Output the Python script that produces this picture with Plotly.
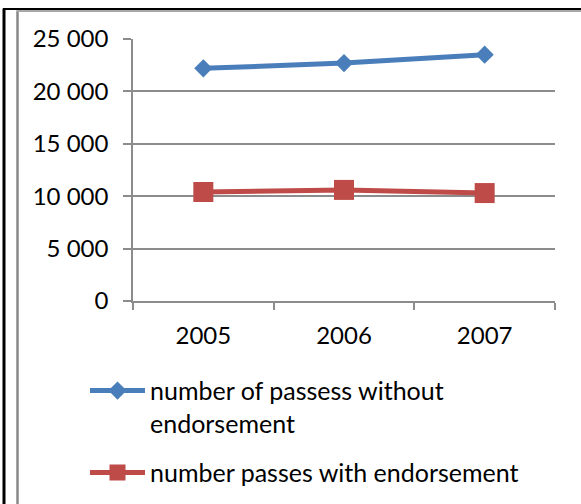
import plotly.graph_objects as go

years = ["2005", "2006", "2007"]
without_endorsement = [22200, 22700, 23500]
with_endorsement = [10400, 10600, 10300]
series_names = ["number of passess without<br>endorsement", "number passes with endorsement"]
y_ticks = [0, 5000, 10000, 15000, 20000, 25000]

W, H = 581, 504
L, R, T, B = 133, 555, 38.5, 301

def px(x):
    return (x - L) / (R - L)

def py(y):
    return (B - y) / (B - T)

FONT = "Lato, 'Open Sans', sans-serif"
GRID = "#8c8c8c"

fig = go.Figure()
fig.add_trace(go.Scatter(
    x=years, y=without_endorsement, name=series_names[0], mode="lines+markers",
    legendgroup="g1",
    line=dict(color="#4A7EBB", width=5),
    marker=dict(symbol="diamond", size=14, color="#4A7EBB"),
))
fig.add_trace(go.Scatter(
    x=years, y=with_endorsement, name=series_names[1], mode="lines+markers",
    legendgroup="g2",
    line=dict(color="#BE4B48", width=5),
    marker=dict(symbol="square", size=20, color="#BE4B48"),
))

shapes = [
    dict(type="line", xref="paper", yref="paper", x0=px(4), x1=px(4), y0=py(8), y1=py(505),
         line=dict(color="black", width=3)),
    dict(type="line", xref="paper", yref="paper", x0=px(3), x1=px(582), y0=py(8.5), y1=py(8.5),
         line=dict(color="black", width=2)),
    dict(type="line", xref="paper", yref="paper", x0=px(17.5), x1=px(17.5), y0=py(10), y1=py(505),
         line=dict(color="#888888", width=2.5)),
    dict(type="line", xref="paper", yref="paper", x0=px(17), x1=px(582), y0=py(10.5), y1=py(10.5),
         line=dict(color="#a8a8a8", width=2)),
]

fig.update_layout(
    width=W, height=H,
    margin=dict(l=L, r=W - R, t=T, b=H - B, pad=0, autoexpand=False),
    paper_bgcolor="white", plot_bgcolor="white",
    font=dict(family=FONT, size=24, color="black"),
    separators=". ",
    showlegend=True,
    legend=dict(
        x=px(85), y=py(368), xanchor="left", yanchor="top",
        font=dict(family=FONT, size=25, color="black"),
        bgcolor="rgba(0,0,0,0)", itemwidth=55, tracegroupgap=14,
        traceorder="grouped", valign="top",
    ),
    shapes=shapes,
    xaxis=dict(
        type="category", range=[-0.5, 2.5], tickson="boundaries",
        ticks="outside", ticklen=7, tickcolor=GRID, tickwidth=1.5,
        showline=True, linecolor=GRID, linewidth=1.5, showgrid=False,
        ticklabelstandoff=12, tickfont=dict(size=24),
    ),
    yaxis=dict(
        range=[0, 25000], tickvals=y_ticks, tickformat=",d",
        ticks="outside", ticklen=8, tickcolor=GRID, tickwidth=1.5,
        showline=True, linecolor=GRID, linewidth=1.5,
        showgrid=True, gridcolor=GRID, gridwidth=1.5, zeroline=False,
        ticklabelstandoff=10, tickfont=dict(size=24),
    ),
)

fig.write_html("out.html", config={"displayModeBar": False},
               post_script="document.body.style.margin='0';")
